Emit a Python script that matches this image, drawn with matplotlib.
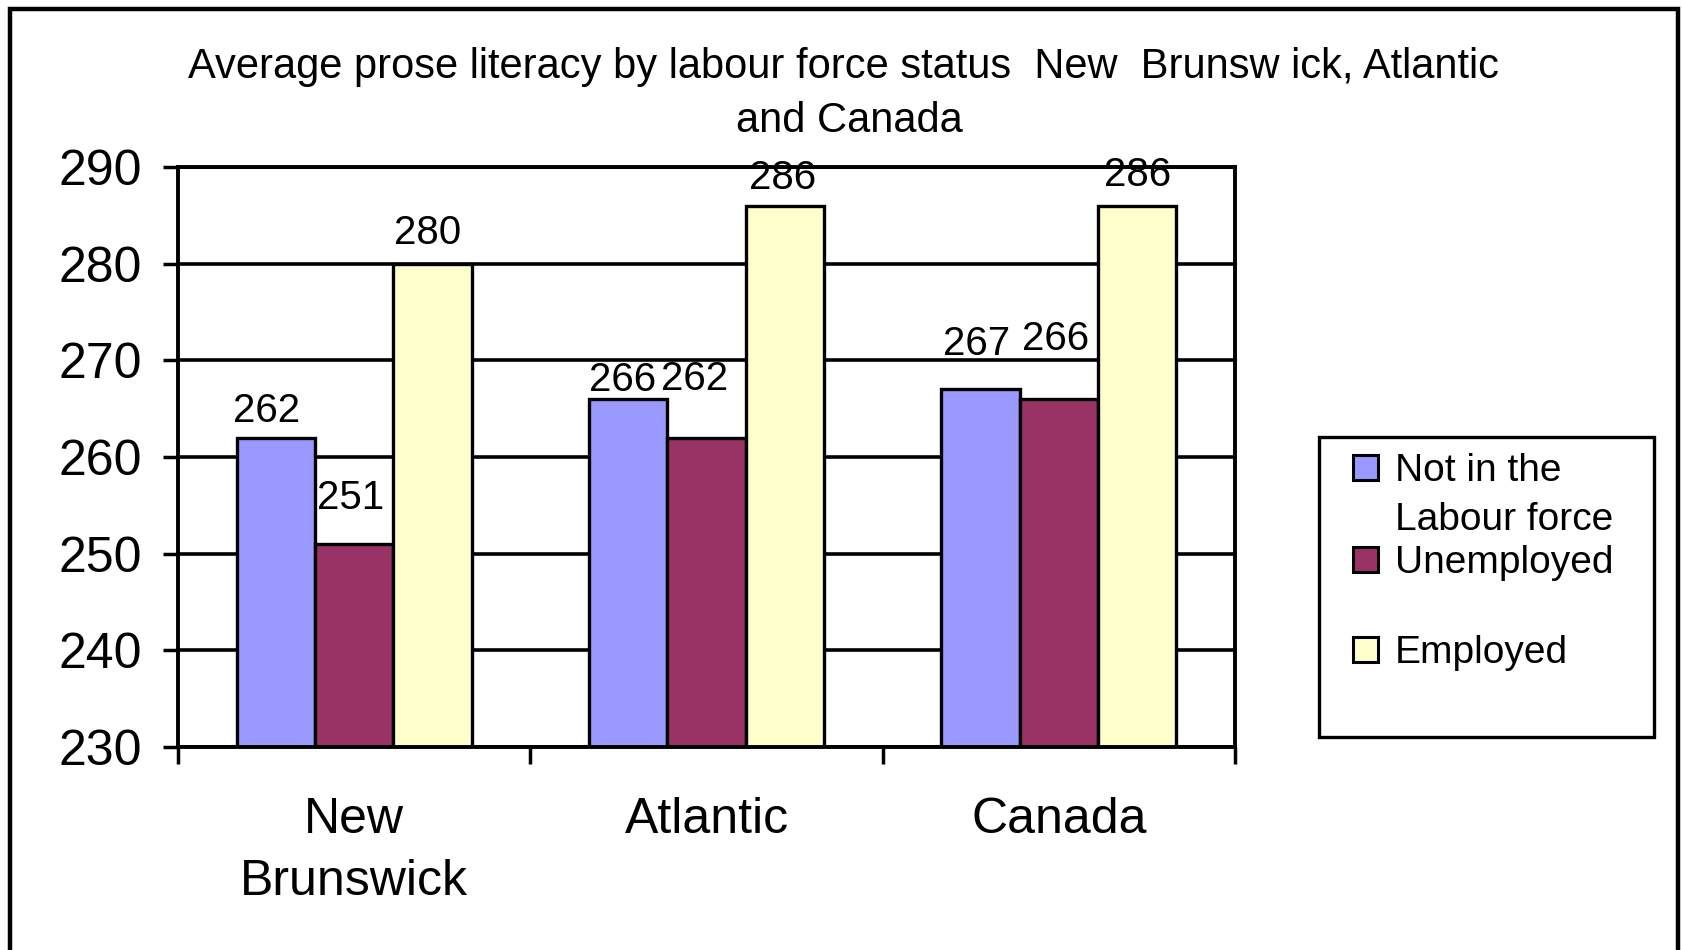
import matplotlib
matplotlib.use('Agg')
import matplotlib.pyplot as plt
from matplotlib.patches import Rectangle
import numpy as np

plt.rcParams['font.family'] = ['Liberation Sans', 'DejaVu Sans']

# average prose literacy scores
regions = ['New\nBrunswick', 'Atlantic', 'Canada']
series_names = ['Not in the\nLabour force', 'Unemployed', 'Employed']
not_in_lf = [262, 266, 267]
unemployed = [251, 262, 266]
employed = [280, 286, 286]
colors = ['#9999FF', '#993366', '#FFFFCC']

# label placement (pixels above bar top, horizontal nudge), per series then region
label_gap = [[16, 8, 34], [35, 48, 49], [20, 17, 20]]
label_dx = [[-9, -6, -4], [-4, -12, -3], [-5, -2, 0]]

W, H = 1682, 950
fig = plt.figure(figsize=(W / 100, H / 100), dpi=100)
PT = 0.72  # points per pixel at 100 dpi


def fpos(px, py):
    # pixel position -> figure fraction
    return px / W, 1 - py / H


ax = fig.add_axes([178 / W, 1 - 747 / H, (1235 - 178) / W, (747 - 167) / H])

x = np.arange(len(regions))
w = 1 / 4.5
for i, (vals, c) in enumerate(zip([not_in_lf, unemployed, employed], colors)):
    bars = ax.bar(x + (i - 1) * w, vals, w, color=c, edgecolor='black',
                  linewidth=2.4, zorder=3)
    for j, (b, v) in enumerate(zip(bars, vals)):
        ax.annotate(str(v), (b.get_x() + b.get_width() / 2, v),
                    xytext=(label_dx[i][j] * PT, label_gap[i][j] * PT),
                    textcoords='offset points',
                    ha='center', va='baseline', fontsize=29,
                    annotation_clip=False, zorder=6)

ax.set_ylim(230, 290)
ax.set_yticks(range(230, 291, 10))
ax.set_xlim(-0.5, 2.5)
ax.set_xticks([-0.5, 0.5, 1.5, 2.5])
ax.set_xticklabels([])
ax.set_xticks(x, minor=True)
ax.set_xticklabels(regions, minor=True, fontsize=36, linespacing=1.45)
ax.tick_params(axis='x', which='major', length=12, width=2.5, direction='out')
ax.tick_params(axis='x', which='minor', length=0, pad=36)
ax.tick_params(axis='y', length=11, width=2.5, direction='out', labelsize=36, pad=15)

ax.set_axisbelow(True)
ax.yaxis.grid(True, color='black', linewidth=2.6)
for s in ax.spines.values():
    s.set_linewidth(2.8)
    s.set_zorder(4)

# title
fig.text(*fpos(844, 67), 'Average prose literacy by labour force status  New  Brunsw ick, Atlantic',
         ha='center', va='center', fontsize=30)
fig.text(*fpos(849, 121), 'and Canada', ha='center', va='center', fontsize=30)

# legend box
lx0, ly0 = fpos(1319, 737)
lx1, ly1 = fpos(1654, 437)
fig.patches.append(Rectangle((lx0, ly0), lx1 - lx0, ly1 - ly0, transform=fig.transFigure,
                             facecolor='white', edgecolor='black', linewidth=2.4))
for name, c, yc in zip(series_names, colors, [468, 560, 650]):
    sx, sy = fpos(1353, yc + 12)
    fig.patches.append(Rectangle((sx, sy), 25 / W, 25 / H, transform=fig.transFigure,
                                 facecolor=c, edgecolor='black', linewidth=2.2))
    fig.text(*fpos(1395, yc - 15), name, ha='left', va='top', fontsize=28,
             linespacing=1.47)

# outer frame
fig.patches.append(Rectangle((10 / W, -0.05), 1668 / W, 1.05 - 9 / H,
                             transform=fig.transFigure, fill=False,
                             edgecolor='black', linewidth=3.2))

fig.savefig('out.png', dpi=100)
